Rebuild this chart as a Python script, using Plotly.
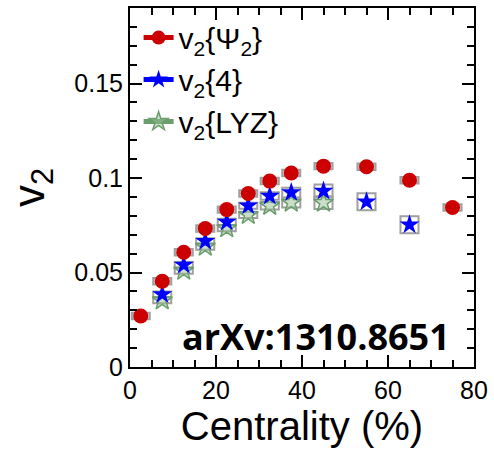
import plotly.graph_objects as go

# Data
cent_psi = [2.5, 7.5, 12.5, 17.5, 22.5, 27.5, 32.5, 37.5, 45, 55, 65, 75]
v2_psi = [0.0270, 0.0454, 0.0607, 0.0733, 0.0833, 0.0918, 0.0984, 0.1027, 0.1063, 0.1060, 0.0988, 0.0844]
sys_psi = [0.0017] * 12

cent_4 = [7.5, 12.5, 17.5, 22.5, 27.5, 32.5, 37.5, 45, 55, 65]
v2_4 = [0.0384, 0.0540, 0.0665, 0.0768, 0.0853, 0.0905, 0.0923, 0.0932, 0.0875, 0.0753]
sys_4 = [0.0016, 0.0016, 0.0016, 0.0016, 0.0016, 0.0020, 0.0026, 0.0034, 0.0045, 0.0045]

cent_lyz = [7.5, 12.5, 17.5, 22.5, 27.5, 32.5, 37.5, 45]
v2_lyz = [0.0353, 0.0510, 0.0637, 0.0735, 0.0805, 0.0853, 0.0870, 0.0870]
sys_lyz = [0.0016, 0.0016, 0.0016, 0.0016, 0.0016, 0.0020, 0.0026, 0.0034]

box_w = 4.2

RED = "#cc0000"
BLUE = "#0000ff"
GREEN = "#6a9e6a"
GRAY = "#a0a0a0"

fig = go.Figure()

# systematic boxes
def sys_boxes(x, y, s, fill):
    return go.Bar(
        x=x, y=[2 * e for e in s], base=[v - e for v, e in zip(y, s)],
        width=box_w, marker=dict(color=fill, line=dict(color=GRAY, width=2)),
        showlegend=False, hoverinfo="skip")

fig.add_trace(sys_boxes(cent_lyz, v2_lyz, sys_lyz, "rgba(255,255,255,0)"))
fig.add_trace(sys_boxes(cent_4, v2_4, sys_4, "rgba(255,255,255,0)"))
fig.add_trace(sys_boxes(cent_psi, v2_psi, sys_psi, "#c8c8c8"))

fig.add_trace(go.Scatter(x=cent_lyz, y=v2_lyz, mode="markers", showlegend=False,
                         marker=dict(symbol="star", size=15, color="rgba(150,190,150,0.5)",
                                     line=dict(width=1.5, color=GREEN))))
fig.add_trace(go.Scatter(x=cent_4, y=v2_4, mode="markers", showlegend=False,
                         marker=dict(symbol="star", size=15, color=BLUE, line=dict(width=0))))
fig.add_trace(go.Scatter(x=cent_psi, y=v2_psi, mode="markers", showlegend=False,
                         marker=dict(symbol="circle", size=15, color=RED, line=dict(width=0))))

# legend entries
legend_items = [
    ("v<sub>2</sub>{Ψ<sub>2</sub>}", RED, "circle", "g1"),
    ("v<sub>2</sub>{4}", BLUE, "star", "g2"),
    ("v<sub>2</sub>{LYZ}", GREEN, "star", "g3"),
]
for name, col, sym, grp in legend_items:
    is_lyz = grp == "g3"
    fig.add_trace(go.Scatter(x=[None], y=[None], mode="lines+markers", name=name, legendgroup=grp,
                             line=dict(color=col, width=5),
                             marker=dict(symbol=sym, size=14,
                                         color="rgba(150,190,150,0.5)" if is_lyz else col,
                                         line=dict(width=1.5 if is_lyz else 0, color=col))))

fig.add_annotation(x=0.935, y=0.01, xref="paper", yref="paper", xanchor="right", yanchor="bottom",
                   text="<b>arXv:1310.8651</b>", showarrow=False,
                   font=dict(family="Open Sans", size=36, color="black"))

axis_common = dict(
    showline=True, linecolor="black", linewidth=2, mirror="ticks",
    ticks="inside", ticklen=12, tickwidth=2, tickcolor="black",
    showgrid=False, zeroline=False,
    tickfont=dict(family="Liberation Sans, Arial", size=25, color="black"),
)

fig.update_layout(
    width=494, height=455,
    margin=dict(l=130, r=16, t=6, b=88),
    plot_bgcolor="white", paper_bgcolor="white",
    barmode="overlay",
    font=dict(family="Liberation Sans, Arial", color="black"),
    xaxis=dict(range=[0, 80], dtick=20, tickformat="d",
               minor=dict(dtick=5, ticks="inside", ticklen=7, tickwidth=2, tickcolor="black"),
               title=dict(text="Centrality (%)", font=dict(size=40), standoff=6),
               **axis_common),
    yaxis=dict(range=[0, 0.19], tickvals=[0, 0.05, 0.1, 0.15], ticktext=["0", "0.05", "0.1", "0.15"],
               minor=dict(dtick=0.01, ticks="inside", ticklen=7, tickwidth=2, tickcolor="black"),
               title=dict(text="v<sub>2</sub>", font=dict(size=44), standoff=16),
               **axis_common),
    legend=dict(x=0.025, y=0.99, xanchor="left", yanchor="top", bgcolor="rgba(0,0,0,0)",
                font=dict(size=30), tracegroupgap=0, itemwidth=30),
)

fig.write_html("out.html")
